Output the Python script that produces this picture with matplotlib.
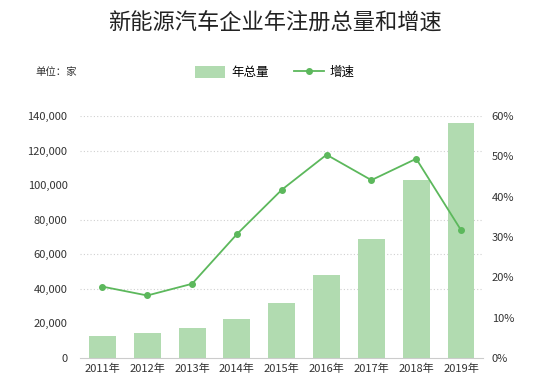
import matplotlib.pyplot as plt
from matplotlib.ticker import FuncFormatter

plt.rcParams['font.family'] = ['Noto Sans CJK SC', 'DejaVu Sans']

# Données
annees = ['2011年', '2012年', '2013年', '2014年', '2015年', '2016年', '2017年', '2018年', '2019年']
total = [12500, 14400, 17100, 22500, 31900, 47900, 69000, 103100, 136000]
croissance = [17.7, 15.5, 18.4, 30.7, 41.7, 50.4, 44.1, 49.4, 31.7]
grille = [40000, 60000, 80000, 120000, 140000]

vert_barre = '#b1dbb0'
vert_ligne = '#5cb85c'
gris_txt = '#333333'

fig = plt.figure(figsize=(5.5, 3.86), dpi=100)
ax = fig.add_axes([0.1455, 0.0725, 0.7335, 0.627])
ax2 = ax.twinx()

x = range(len(annees))
for g in grille:
    ax.axhline(g, color='#d0d0d0', linestyle=(0, (1, 2)), linewidth=0.8, zorder=0)
b = ax.bar(x, total, width=0.6, color=vert_barre, zorder=2, label='年总量')
l, = ax2.plot(x, croissance, color=vert_ligne, linewidth=1.3, marker='o',
              markersize=4, label='增速', zorder=3)

ax.set_xlim(-0.5, 8.5)
ax.set_ylim(0, 140000)
ax2.set_ylim(0, 60)
ax.set_yticks(range(0, 140001, 20000))
ax2.set_yticks(range(0, 61, 10))
ax.yaxis.set_major_formatter(FuncFormatter(lambda v, p: f'{int(v):,}'))
ax2.yaxis.set_major_formatter(FuncFormatter(lambda v, p: f'{int(v)}%'))
ax.set_xticks(list(x))
ax.set_xticklabels(annees)

for a in (ax, ax2):
    for s in ['top', 'left', 'right', 'bottom']:
        a.spines[s].set_visible(False)
    a.tick_params(length=0, labelsize=8, colors=gris_txt)
ax.spines['bottom'].set_visible(True)
ax.spines['bottom'].set_color('#cccccc')
ax.tick_params(axis='y', pad=9)
ax2.tick_params(axis='y', pad=6)
ax.tick_params(axis='x', pad=4)
ax.set_zorder(1)
ax2.set_zorder(2)
ax.patch.set_visible(False)

fig.text(0.5, 0.94, '新能源汽车企业年注册总量和增速', ha='center', va='center',
         fontsize=16, color='#222222')
fig.text(0.064, 0.813, '单位：家', ha='left', va='center', fontsize=7.5, color=gris_txt)
fig.legend(handles=[b, l], loc='center', bbox_to_anchor=(0.5, 0.813), ncol=2,
           frameon=False, fontsize=9, handlelength=2.4, handleheight=1.1,
           columnspacing=2.0, handletextpad=0.5)

plt.savefig('out.png', dpi=100)
